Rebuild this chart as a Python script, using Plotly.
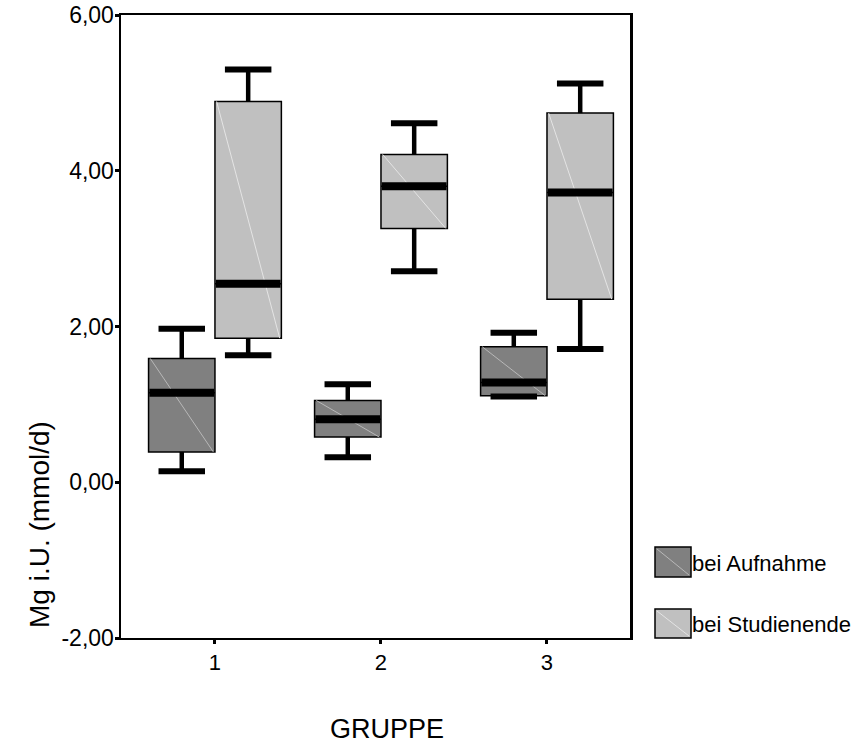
import plotly.graph_objects as go

# ---- data ----
groups = [1, 2, 3]
tick_labels = ["1", "2", "3"]
series_names = ["bei Aufnahme", "bei Studienende"]

auf_lower = [0.14, 0.32, 1.10]
auf_q1 = [0.39, 0.58, 1.11]
auf_median = [1.15, 0.81, 1.28]
auf_q3 = [1.59, 1.05, 1.74]
auf_upper = [1.97, 1.26, 1.92]

stu_lower = [1.63, 2.71, 1.71]
stu_q1 = [1.85, 3.26, 2.35]
stu_median = [2.55, 3.80, 3.72]
stu_q3 = [4.89, 4.21, 4.74]
stu_upper = [5.30, 4.61, 5.12]

y_ticks = [-2, 0, 2, 4, 6]
y_tick_labels = ["-2,00", "0,00", "2,00", "4,00", "6,00"]

# ---- style ----
BOX_W = 0.4
CAP_W = 0.28
colors = ["#808080", "#c0c0c0"]
diag_colors = ["#b8b8b8", "#e4e4e4"]
FONT = "Liberation Sans, Arial, sans-serif"

W, H = 860, 746
PL, PR, PT, PB = 121, 630, 15, 638


def px_x(p):
    return (p - PL) / (PR - PL)


def px_y(p):
    return (PB - p) / (PB - PT)


series = [
    (series_names[0], auf_lower, auf_q1, auf_median, auf_q3, auf_upper, -BOX_W / 2, colors[0], diag_colors[0]),
    (series_names[1], stu_lower, stu_q1, stu_median, stu_q3, stu_upper, BOX_W / 2, colors[1], diag_colors[1]),
]

fig = go.Figure()

for name, lo, q1, med, q3, up, off, col, dcol in series:
    xs = [g + off for g in groups]
    fig.add_trace(go.Box(
        name=name, x=xs, q1=q1, median=med, q3=q3,
        lowerfence=lo, upperfence=up,
        width=BOX_W, whiskerwidth=0,
        fillcolor=col, line=dict(color="black", width=1.5),
        boxpoints=False, showlegend=False, hoverinfo="skip",
    ))

for name, lo, q1, med, q3, up, off, col, dcol in series:
    xs = [g + off for g in groups]
    # faint diagonal sheen inside each box
    dx, dy = [], []
    for x, b, c in zip(xs, q1, q3):
        dx += [x - BOX_W / 2 + 0.01, x + BOX_W / 2 - 0.01, None]
        dy += [c, b, None]
    fig.add_trace(go.Scatter(x=dx, y=dy, mode="lines",
                             line=dict(color=dcol, width=1),
                             showlegend=False, hoverinfo="skip"))
    # whisker stems
    sx, sy = [], []
    for x, a, b, c, d in zip(xs, lo, q1, q3, up):
        sx += [x, x, None, x, x, None]
        sy += [a, b, None, c, d, None]
    fig.add_trace(go.Scatter(x=sx, y=sy, mode="lines",
                             line=dict(color="black", width=4.5),
                             showlegend=False, hoverinfo="skip"))
    # caps
    cx, cy = [], []
    for x, a, d in zip(xs, lo, up):
        cx += [x - CAP_W / 2, x + CAP_W / 2, None, x - CAP_W / 2, x + CAP_W / 2, None]
        cy += [a, a, None, d, d, None]
    fig.add_trace(go.Scatter(x=cx, y=cy, mode="lines",
                             line=dict(color="black", width=6),
                             showlegend=False, hoverinfo="skip"))
    # medians
    mx, my = [], []
    for x, m in zip(xs, med):
        mx += [x - BOX_W / 2 + 0.005, x + BOX_W / 2 - 0.005, None]
        my += [m, m, None]
    fig.add_trace(go.Scatter(x=mx, y=my, mode="lines",
                             line=dict(color="black", width=8),
                             showlegend=False, hoverinfo="skip"))

# ---- custom legend (large swatches like the original) ----
legend_rows = [(547, 577), (609, 638)]
for (top, bot), name, col, dcol in zip(legend_rows, series_names, colors, diag_colors):
    fig.add_shape(type="rect", xref="paper", yref="paper",
                  x0=px_x(655), x1=px_x(691), y0=px_y(bot), y1=px_y(top),
                  fillcolor=col, line=dict(color="black", width=1.5))
    fig.add_shape(type="line", xref="paper", yref="paper",
                  x0=px_x(657), x1=px_x(689), y0=px_y(top + 2), y1=px_y(bot - 2),
                  line=dict(color=dcol, width=1))
    fig.add_annotation(xref="paper", yref="paper", x=px_x(690), y=px_y((top + bot) / 2 + 1),
                       text=name, showarrow=False, xanchor="left", yanchor="middle",
                       font=dict(family=FONT, size=22, color="black"))

# ---- axis titles ----
fig.add_annotation(xref="paper", yref="paper", x=px_x(387), y=px_y(729),
                   text="GRUPPE", showarrow=False, xanchor="center", yanchor="middle",
                   font=dict(family=FONT, size=27, color="black"))
fig.add_annotation(xref="paper", yref="paper", x=px_x(39), y=px_y(525),
                   text="Mg i.U. (mmol/d)", showarrow=False, textangle=-90,
                   xanchor="center", yanchor="middle",
                   font=dict(family=FONT, size=28, color="black"))

fig.update_layout(
    width=W, height=H,
    paper_bgcolor="white", plot_bgcolor="white",
    margin=dict(l=PL, r=W - PR, t=PT, b=H - PB, pad=0),
    boxmode="overlay",
    font=dict(family=FONT, size=22, color="black"),
    showlegend=False,
    xaxis=dict(
        range=[0.434, 3.5], tickvals=groups, ticktext=tick_labels,
        showgrid=False, zeroline=False, automargin=False,
        showline=True, linecolor="black", linewidth=2, mirror=True,
        ticks="outside", ticklen=4, tickwidth=3, tickcolor="black",
        tickfont=dict(size=22),
    ),
    yaxis=dict(
        range=[-2, 6], tickvals=y_ticks, ticktext=y_tick_labels,
        showgrid=False, zeroline=False, automargin=False,
        showline=True, linecolor="black", linewidth=2.5, mirror=True,
        ticks="outside", ticklen=4, tickwidth=3, tickcolor="black",
        tickfont=dict(size=23), ticklabeloverflow="allow",
        ticklabelstandoff=-4,
    ),
)

fig.write_html("out.html",
               config={"displayModeBar": False, "staticPlot": True},
               post_script="document.body.style.margin='0';document.body.style.padding='0';")
